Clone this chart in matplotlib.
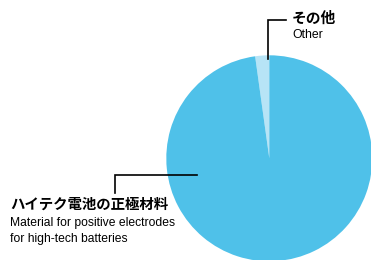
import matplotlib.pyplot as plt

# --- data ---
labels_jp = ["その他", "ハイテク電池の正極材料"]
labels_en = ["Other", "Material for positive electrodes\nfor high-tech batteries"]
shares = [2.2, 97.8]
colors = ["#b7e4f6", "#4fc1e9"]

W, H = 371, 260
fig = plt.figure(figsize=(W / 100, H / 100), dpi=100)
ax = fig.add_axes([0, 0, 1, 1])

# pie (pixel coordinates, y measured from bottom)
ax.pie(shares, colors=colors, startangle=90, counterclock=True,
       center=(269.3, H - 158.3), radius=103, frame=True,
       wedgeprops=dict(linewidth=0))

ax.set_xlim(0, W)
ax.set_ylim(0, H)
ax.set_aspect("equal")
ax.axis("off")

jp_font = ["Noto Sans CJK JP", "DejaVu Sans"]
en_font = ["Liberation Sans Narrow", "Liberation Sans", "DejaVu Sans"]

# leader for "Other"
ax.plot([267.5, 267.5, 286], [H - 59, H - 20, H - 20], color="black", lw=1.2,
        solid_joinstyle="miter")
ax.text(292, H - 18, labels_jp[0], family=jp_font, fontsize=10.6,
        fontweight="bold", va="center", ha="left")
ax.text(292, H - 35, labels_en[0], family=en_font, fontsize=8.8,
        va="center", ha="left")

# leader for main slice
ax.plot([115, 115, 197], [H - 193, H - 174.5, H - 174.5], color="black",
        lw=1.2, solid_joinstyle="miter")
ax.text(10, H - 205, labels_jp[1], family=jp_font, fontsize=10.4,
        fontweight="bold", va="center", ha="left")
ax.text(10, H - 231, labels_en[1], family=en_font, fontsize=8.7,
        va="center", ha="left", linespacing=1.4)

fig.savefig("out.png", dpi=100)
